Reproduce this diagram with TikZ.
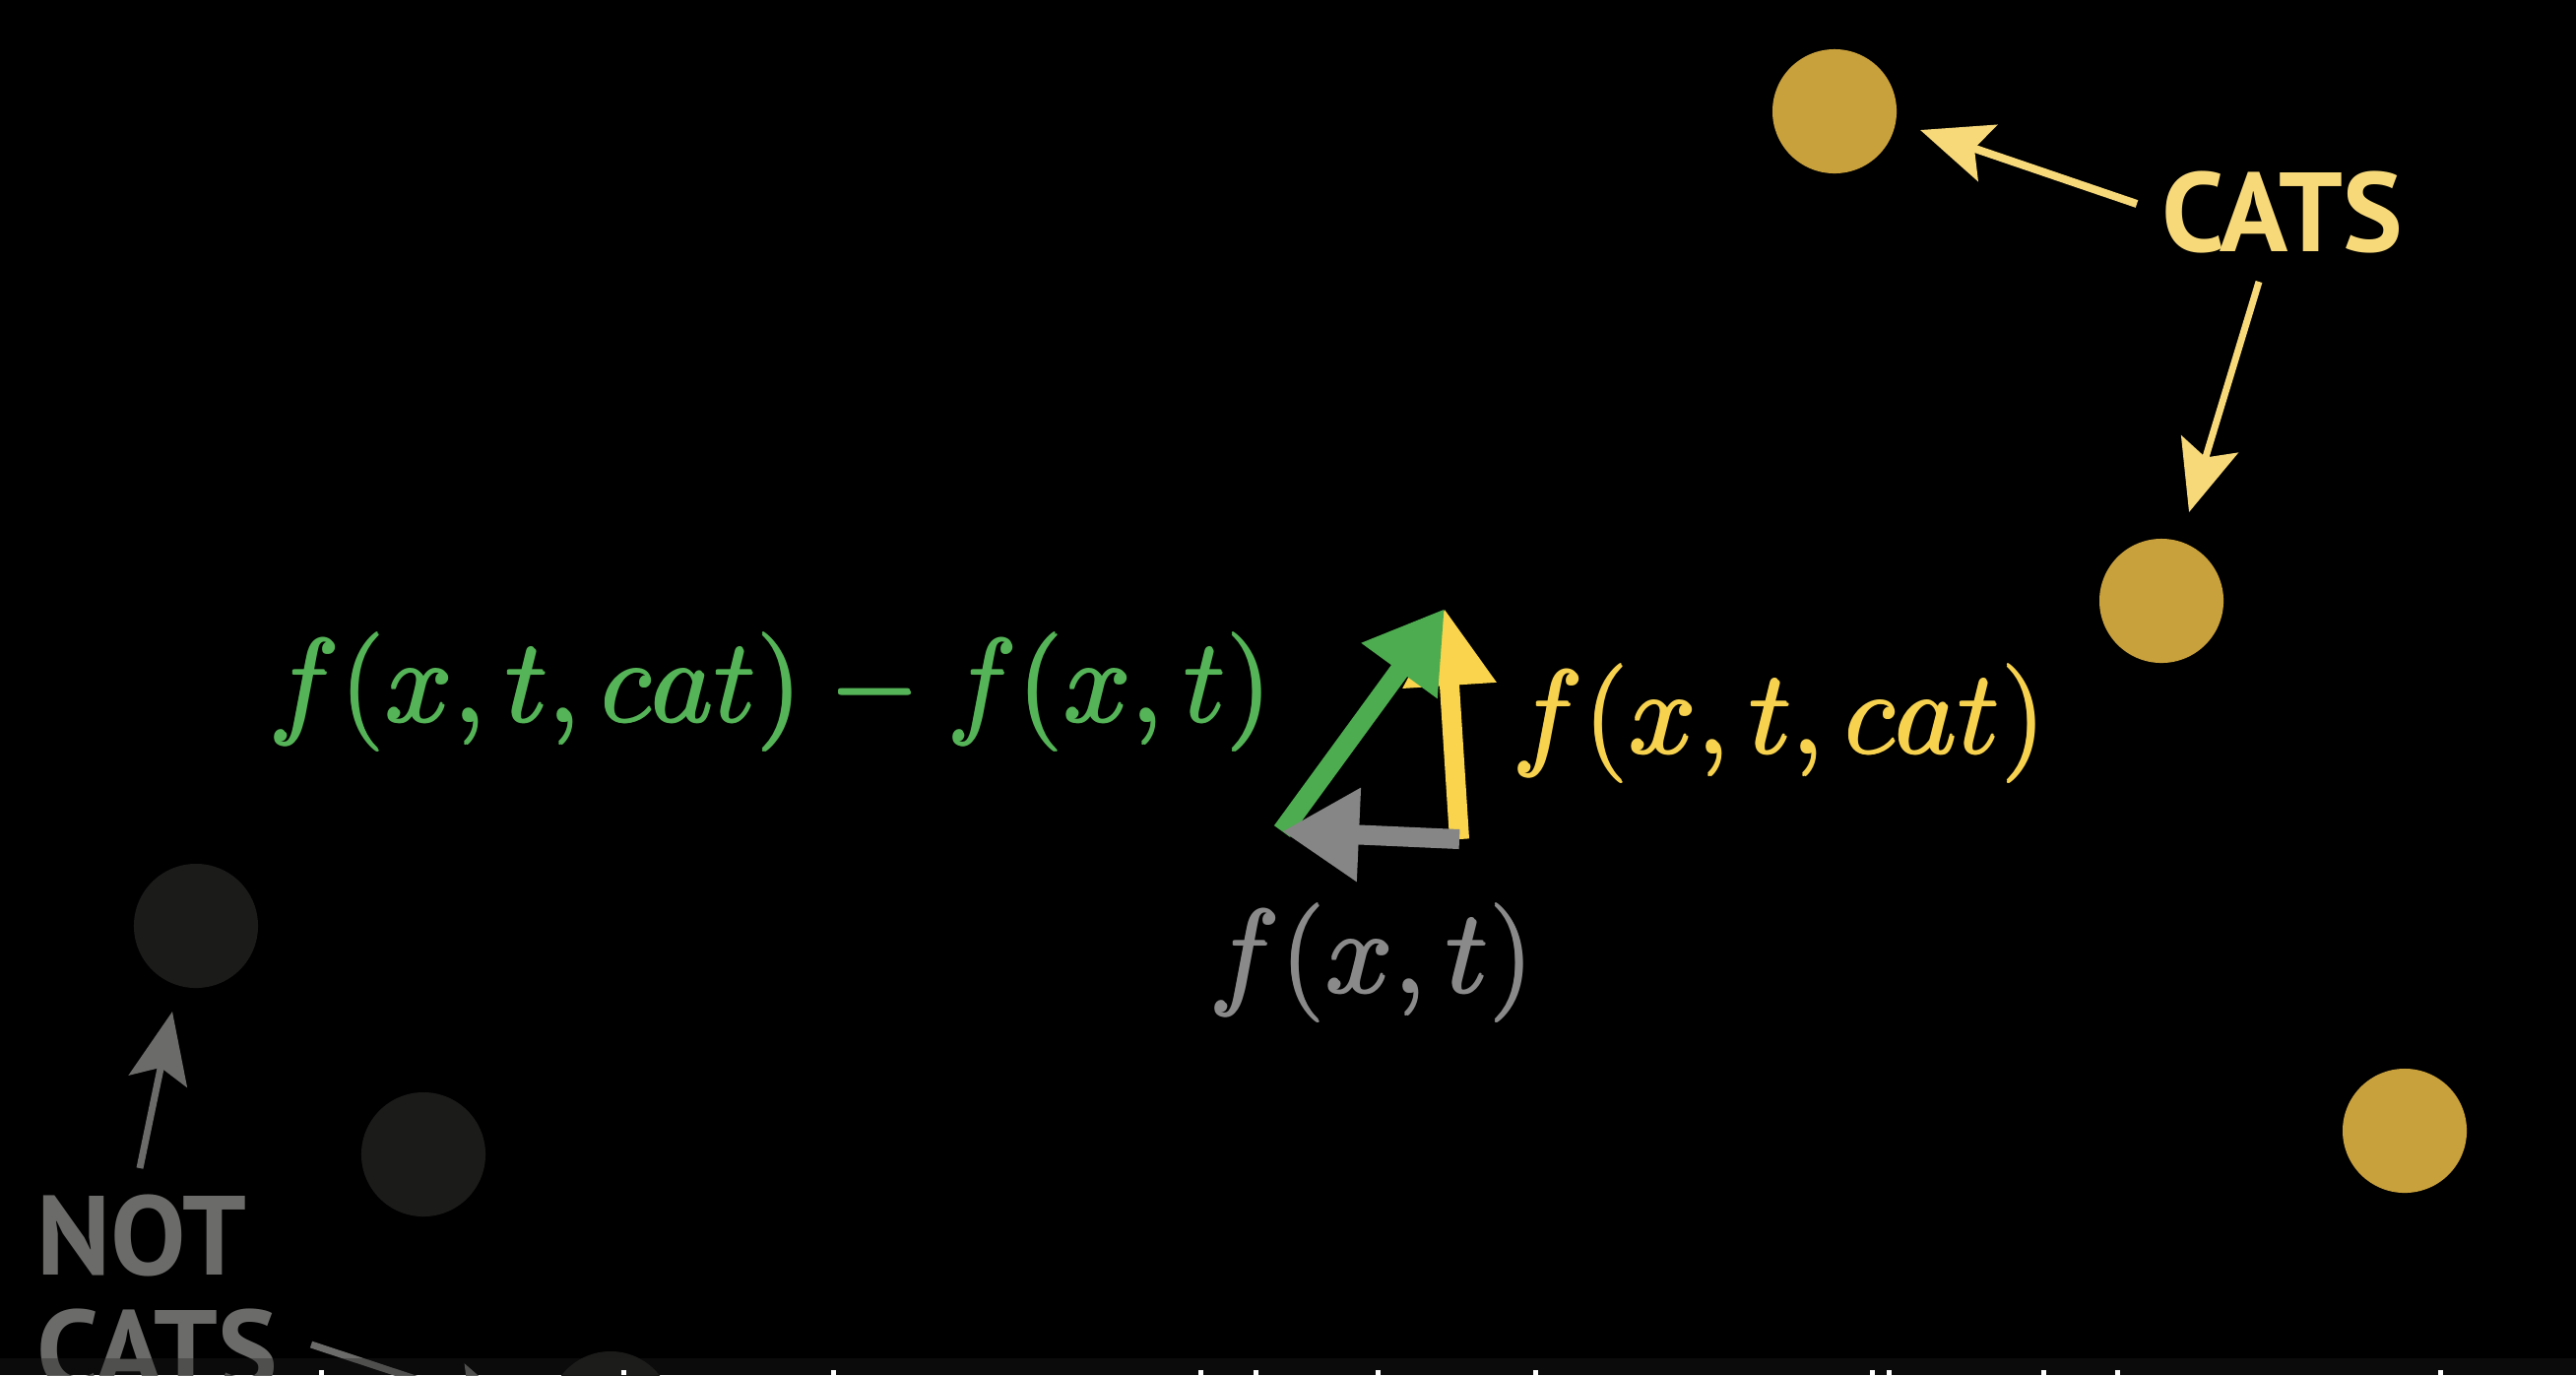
\documentclass[tikz,border=0pt]{standalone}
\usepackage{fontspec}
\newfontfamily\labelsans{PT Sans}
\usetikzlibrary{arrows.meta,calc}
\definecolor{catdot}{HTML}{C9A13C}
\definecolor{catlab}{HTML}{F7D97A}
\definecolor{notdot}{HTML}{1B1C1A}
\definecolor{notlab}{HTML}{6B6C6A}
\definecolor{vgreen}{HTML}{4DAC50}
\definecolor{vyellow}{HTML}{F9D44C}
\definecolor{vgray}{HTML}{868686}
\definecolor{tgreen}{HTML}{55B457}
\definecolor{tyellow}{HTML}{F7D24F}
\definecolor{tgray}{HTML}{8A8A8A}
\definecolor{stripcol}{HTML}{1F1F1F}
\newcommand{\bigmath}[1]{\scalebox{3.41}{$#1$}}
\newcommand{\fatmath}[1]{\makebox[0pt][l]{\hspace{0.45pt}\bigmath{#1}}\makebox[0pt][l]{\raisebox{0.45pt}{\bigmath{#1}}}\bigmath{#1}}
\begin{document}
\begin{tikzpicture}[x=0.01cm,y=-0.01cm,
  dotnode/.style={circle,minimum size=1.26cm,inner sep=0pt,fill=#1},
  vec/.style={line width=0.2cm,draw=#1,-{Triangle[length=0.78cm,width=0.9cm]}},
  pointer/.style={draw=#1,line width=0.07cm,-{Stealth[length=0.72cm,width=0.6cm,inset=0.14cm]}},
  mathlab/.style={inner sep=0pt,anchor=base west,text=#1},
  biglab/.style={inner sep=0pt,anchor=base west,text=#1,font=\labelsans\bfseries\fontsize{32.5}{39}\selectfont},
]
\fill[black] (0,0) rectangle (2616,1396);
\useasboundingbox (0,0) rectangle (2616,1396);
\clip (0,0) rectangle (2616,1396);

% dots
\node[dotnode=catdot] (cat1) at (1863,113) {};
\node[dotnode=catdot] (cat2) at (2195,610) {};
\node[dotnode=catdot] (cat3) at (2442,1148) {};
\node[dotnode=notdot] (not1) at (199,940) {};
\node[dotnode=notdot] (not2) at (430,1172) {};
\node[dotnode=notdot] (not3) at (620,1435) {};

% group labels
\node[biglab=catlab] (cats) at (2195,255) {CATS};
\node[biglab=notlab] (nottxt) at (37,1294) {NOT};
\node[biglab=notlab] (notcats) at (37,1410) {CATS};

% pointers
\draw[pointer=catlab,line width=0.08cm] ($(cats.base west)+(-25,-48)$) -- ($(cat1)+(87,19)$);
\draw[pointer=catlab] ($(cats.base west)+(99,31)$) -- ($(cat2)+(28,-90)$);
\draw[pointer=notlab] ($(nottxt.base west)+(105,-108)$) -- ($(not1)+(-24,87)$);
\draw[pointer=notlab] ($(notcats.base west)+(279,-45)$) -- ($(not3)+(-89,1)$);

% vectors
\coordinate (O) at (1482,852);
\coordinate (Y) at (1467,618);
\coordinate (G) at (1302,844);
\draw[vec=vyellow] (O) -- (Y);
\draw[vec=vgreen] (G) -- (Y);
\draw[vec=vgray] (O) -- (G);

% formulas
\node[mathlab=tgreen] (lgreen) at (272,733) {\fatmath{f(x,t,cat)-f(x,t)}};
\node[mathlab=tyellow] (lyellow) at (1535,765) {\fatmath{f(x,t,cat)}};
\node[mathlab=tgray] (lgray) at (1227,1008) {\fatmath{f(x,t)}};

% subtitle strip
\fill[stripcol,opacity=0.36] (0,1379) rectangle (2616,1396);
\foreach \x in {326,633,846,1219,1275,1399,1559,1901,1918,2075,2150,2478}
  \fill[white] (\x-2.5,1391) rectangle (\x+2.5,1396);
\end{tikzpicture}
\end{document}
